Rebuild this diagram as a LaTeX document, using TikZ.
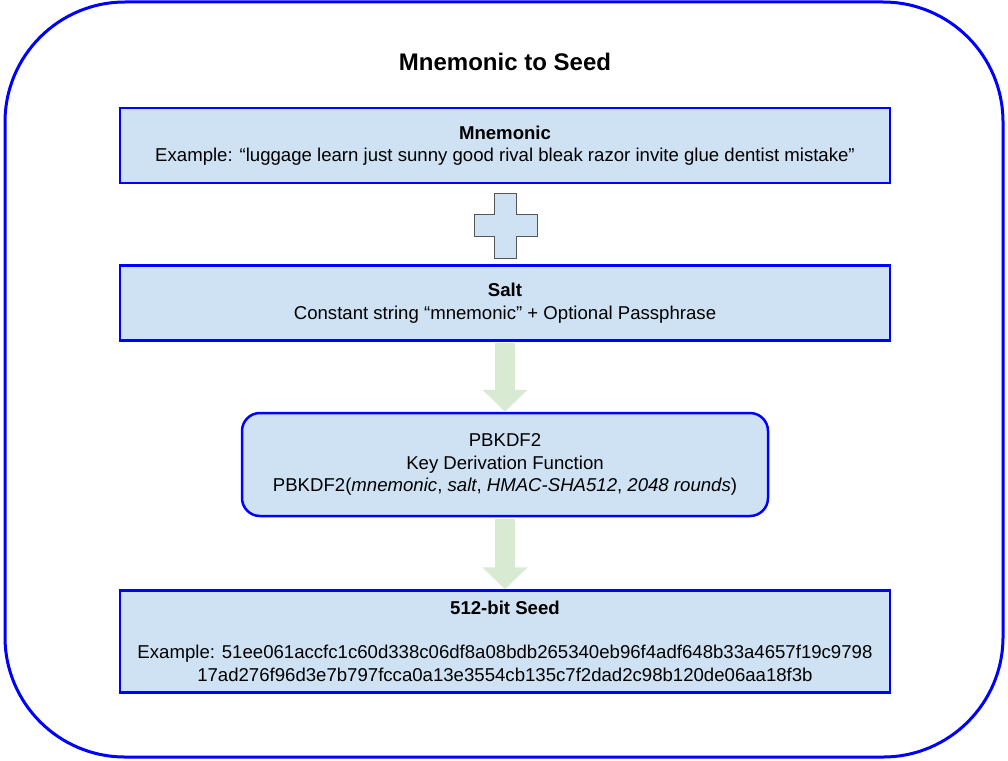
\documentclass[tikz,border=0pt]{standalone}
\usepackage{fontspec}
\setmainfont{Liberation Sans}
\usetikzlibrary{positioning,arrows.meta}

\definecolor{boxblue}{HTML}{CFE2F3}
\definecolor{edgeblue}{HTML}{0000FF}
\definecolor{flowgreen}{HTML}{D9EAD3}
\definecolor{plusgray}{HTML}{555555}

\begin{document}
\begin{tikzpicture}[x=1pt, y=1pt, node distance=70pt, every node/.style={font=\fontsize{18.6}{22.5}\selectfont}]
    \tikzstyle{stage} = [rectangle, minimum width=770pt, minimum height=75pt, inner sep=0pt, align=center, draw=edgeblue, line width=2.5pt, fill=boxblue]
    \tikzstyle{kdfbox} = [rectangle, rounded corners=18pt, minimum width=526pt, minimum height=103pt, inner sep=0pt, align=center, draw=edgeblue, line width=2.5pt, fill=boxblue]
    \tikzstyle{flow} = [line width=20pt, draw=flowgreen, -{Triangle[width=44pt, length=22pt]}, shorten <=1.5pt]

    \useasboundingbox (0,0) rectangle (1008,-760);

    % Outer frame
    \draw [edgeblue, line width=3pt, rounded corners=120pt] (5,-2) rectangle (1003,-757);
    \node [font=\fontsize{24}{28}\selectfont\bfseries] (title) at (505,-62) {Mnemonic to Seed};

    % Inputs
    \node [stage] (mnem) at (505,-145.5) {\textbf{Mnemonic}\\Example: “luggage learn just sunny good rival bleak razor invite glue dentist mistake”};
    \node [stage, below=80pt of mnem] (salt) {\textbf{Salt}\\Constant string “mnemonic” + Optional Passphrase};

    % Plus sign
    \coordinate (plus) at (505.5,-225.5);
    \draw [plusgray, fill=boxblue, line width=1pt] (plus) ++(-11,32.5) -- ++(22,0) -- ++(0,-21.5) -- ++(20.5,0) -- ++(0,-22) -- ++(-20.5,0) -- ++(0,-21.5) -- ++(-22,0) -- ++(0,21.5) -- ++(-20.5,0) -- ++(0,22) -- ++(20.5,0) -- cycle;

    % Derivation and output
    \node [kdfbox, below=of salt] (kdf) {PBKDF2\\Key Derivation Function\\PBKDF2(\textit{mnemonic}, \textit{salt}, \textit{HMAC-SHA512}, \textit{2048 rounds})};
    \node [stage, minimum height=102pt, below=72pt of kdf] (seed) {\textbf{512-bit Seed}\\[21.5pt]Example: 51ee061accfc1c60d338c06df8a08bdb265340eb96f4adf648b33a4657f19c9798\\17ad276f96d3e7b797fcca0a13e3554cb135c7f2dad2c98b120de06aa18f3b};

    % Connections
    \draw [flow] (salt) -- (kdf);
    \draw [flow] (kdf) -- (seed);
\end{tikzpicture}
\end{document}
